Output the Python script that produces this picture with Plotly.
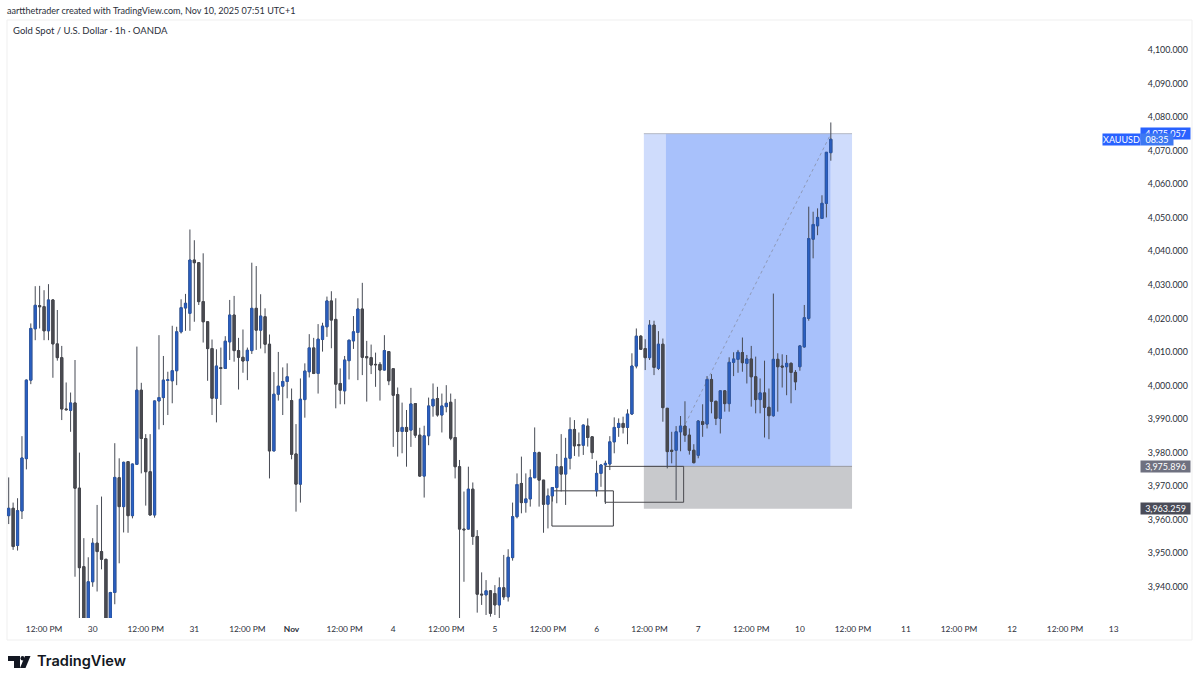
import plotly.graph_objects as go

# hourly bars, clipped ones run below the axis bottom
opens = [3961.2, 3963.4, 3952.3, 3962.6, 3978.2, 4001.6, 4016.9, 4023.8, 4023.5, 4016.3,
         4025.5, 4012.4, 4008.3, 3993.0, 3992.6, 3994.8, 3969.4, 3946.0, 3928.0, 3941.5,
         3953.0, 3950.5, 3948.2, 3928.0, 3938.3, 3972.5, 3963.9, 3977.3, 3961.2, 3976.5,
         3998.6, 3984.2, 3974.3, 3961.4, 3995.4, 3996.4, 4001.5, 4001.4, 4004.4, 4016.0,
         4023.1, 4021.5, 4037.4, 4036.6, 4025.0, 4019.0, 4011.0, 3996.2, 4005.3, 4005.1,
         4013.0, 4021.0, 4010.4, 4008.4, 4007.4, 4010.4, 4023.0, 4016.5, 4020.5, 4012.3,
         3980.5, 3997.4, 3999.8, 4001.2, 3995.5, 3979.6, 3970.6, 3995.8, 4004.1, 4011.2,
         4003.6, 4013.7, 4017.5, 4025.2, 4019.7, 4000.6, 3998.4, 4007.4, 4013.3, 4015.8,
         4022.8, 4008.6, 4008.3, 4006.3, 4006.3, 4004.6, 4010.1, 4005.0, 3997.3, 3986.3,
         3987.5, 3986.7, 3994.6, 3985.2, 3973.0, 3985.0, 3993.9, 3996.1, 3991.2, 3993.7,
         3995.0, 3984.5, 3975.8, 3957.2, 3957.2, 3969.1, 3955.0, 3937.8, 3937.6, 3938.8,
         3938.0, 3934.6, 3939.7, 3937.0, 3948.7, 3960.9, 3970.8, 3965.1, 3966.2, 3972.5,
         3980.0, 3971.8, 3964.6, 3967.1, 3969.6, 3975.8, 3973.6, 3978.3, 3986.9, 3982.4,
         3982.2, 3987.9, 3984.7, 3968.6, 3973.8, 3976.3, 3976.6, 3983.2, 3987.5, 3988.7,
         3987.5, 3991.5, 4005.8, 4014.7, 4011.0, 4008.3, 4018.0, 4005.1, 4012.3, 3993.2,
         3980.7, 3980.7, 3986.2, 3987.9, 3985.2, 3980.7, 3979.2, 3989.2, 3988.5, 4001.8,
         3995.3, 3990.2, 3998.4, 3994.6, 4006.9, 4007.8, 4009.8, 4006.6, 4007.9, 4002.6,
         3995.8, 3997.8, 3993.5, 3991.0, 4007.8, 4005.8, 4005.6, 4006.6, 4003.9, 4005.6,
         4011.5, 4020.0, 4043.6, 4047.6, 4049.8, 4054.3, 4069.4]
highs = [3972.6, 3965.1, 3966.4, 3984.9, 4001.8, 4018.5, 4029.6, 4029.7, 4028.4, 4030.2,
         4025.7, 4022.5, 4011.8, 4000.9, 3997.9, 4007.6, 3980.0, 3954.5, 3948.8, 3954.5,
         3964.4, 3966.9, 3948.2, 3938.5, 3982.8, 3978.3, 3977.3, 3977.4, 3976.7, 4011.6,
         4000.8, 3985.5, 3985.5, 3995.5, 4015.0, 4008.8, 4004.1, 4017.8, 4017.5, 4025.7,
         4027.3, 4046.5, 4043.3, 4036.7, 4039.4, 4019.0, 4013.7, 4010.8, 4011.3, 4014.7,
         4025.5, 4026.7, 4014.2, 4016.7, 4011.3, 4036.6, 4035.6, 4027.2, 4023.0, 4015.2,
         4004.0, 4010.0, 4005.4, 4006.6, 3999.1, 3988.5, 4002.1, 4006.6, 4015.3, 4014.2,
         4018.3, 4018.7, 4026.5, 4028.1, 4026.0, 4005.1, 4008.8, 4013.6, 4020.7, 4026.0,
         4030.6, 4013.3, 4012.2, 4009.8, 4007.0, 4015.0, 4010.2, 4005.0, 3999.4, 3994.9,
         3992.7, 3999.3, 3994.7, 3987.4, 3988.0, 3996.4, 4000.6, 3999.6, 3997.6, 4000.1,
         3997.6, 3996.0, 3977.8, 3968.4, 3975.8, 3971.1, 3956.9, 3944.3, 3942.0, 3939.0,
         3940.5, 3942.8, 3949.5, 3951.2, 3965.1, 3973.8, 3978.8, 3973.8, 3975.0, 3987.5,
         3980.3, 3971.8, 3969.3, 3969.7, 3979.6, 3985.5, 3984.4, 3990.5, 3989.7, 3986.0,
         3988.4, 3990.2, 3984.9, 3977.6, 3976.6, 3977.6, 3984.9, 3990.5, 3990.2, 3990.7,
         3992.9, 4009.6, 4017.0, 4015.0, 4013.8, 4019.5, 4019.3, 4016.2, 4014.0, 3993.2,
         3986.2, 3987.9, 3990.9, 3995.3, 3987.2, 3982.5, 3989.7, 3994.4, 4002.8, 4003.4,
         3995.4, 3998.5, 3998.6, 4008.4, 4009.9, 4010.6, 4014.3, 4009.1, 4011.8, 4008.6,
         4002.1, 4007.4, 3999.1, 4027.4, 4009.6, 4009.3, 4009.1, 4006.9, 4004.6, 4012.0,
         4024.0, 4053.3, 4051.8, 4052.8, 4056.7, 4069.6, 4078.4]
lows = [3958.7, 3951.0, 3950.8, 3960.2, 3975.0, 4000.4, 4013.5, 4017.0, 4013.5, 4013.5,
        4002.3, 4007.4, 3989.7, 3992.5, 3986.2, 3943.0, 3925.0, 3925.0, 3925.0, 3940.0,
        3938.6, 3945.2, 3925.0, 3925.0, 3934.8, 3947.0, 3956.2, 3956.1, 3960.4, 3976.4,
        3973.8, 3964.2, 3961.3, 3960.6, 3986.9, 3988.2, 3991.2, 3994.7, 4000.1, 4015.5,
        4016.3, 4016.3, 4019.0, 4024.0, 4012.8, 4001.4, 3991.2, 3989.0, 3994.2, 4005.0,
        4007.6, 4007.1, 3998.8, 4003.8, 4001.6, 4009.4, 4010.6, 4011.0, 4009.6, 3972.3,
        3980.4, 3995.5, 3991.2, 3996.2, 3978.0, 3962.4, 3965.1, 3990.4, 4002.4, 4003.4,
        3997.6, 4010.1, 4014.5, 4011.1, 3993.2, 3994.4, 3994.4, 4001.8, 4010.9, 4001.6,
        4003.1, 3995.2, 4003.4, 3999.6, 3995.5, 4004.5, 4000.1, 3981.7, 3978.8, 3979.8,
        3975.8, 3981.7, 3984.4, 3972.8, 3966.6, 3982.2, 3990.7, 3990.7, 3986.0, 3992.0,
        3983.7, 3972.3, 3930.6, 3941.5, 3957.0, 3952.5, 3932.3, 3934.6, 3931.6, 3931.1,
        3931.6, 3930.6, 3936.1, 3935.6, 3947.8, 3960.4, 3961.9, 3962.1, 3963.9, 3972.4,
        3963.9, 3956.1, 3957.4, 3965.4, 3964.9, 3968.4, 3964.4, 3975.0, 3979.0, 3978.8,
        3979.3, 3981.8, 3978.1, 3966.9, 3969.8, 3964.7, 3974.8, 3979.8, 3984.7, 3985.7,
        3982.5, 3991.2, 4005.1, 4010.6, 4004.6, 4007.6, 4003.1, 4004.6, 3989.2, 3975.3,
        3976.8, 3965.8, 3980.4, 3983.2, 3979.4, 3976.8, 3978.3, 3984.7, 3987.2, 3991.7,
        3988.2, 3985.7, 3992.2, 3992.2, 4002.8, 4003.8, 4004.1, 4000.6, 3993.7, 3991.7,
        3991.7, 3984.5, 3984.0, 3990.7, 3992.2, 3999.4, 3997.1, 3994.7, 3998.6, 4004.4,
        4011.3, 4019.3, 4037.9, 4044.8, 4049.8, 4050.1, 4067.0]
closes = [3963.4, 3952.0, 3962.7, 3978.4, 4001.6, 4017.0, 4023.9, 4023.5, 4016.3, 4025.5,
          4012.4, 4008.3, 3993.0, 3992.8, 3994.8, 3969.4, 3945.7, 3928.0, 3941.5, 3953.0,
          3950.5, 3948.2, 3928.0, 3938.3, 3972.6, 3963.9, 3977.1, 3961.2, 3976.6, 3998.6,
          3984.2, 3974.3, 3961.4, 3995.4, 3996.4, 4001.6, 4001.7, 4004.4, 4016.0, 4023.2,
          4024.5, 4037.4, 4036.6, 4025.0, 4019.0, 4011.0, 3996.2, 4005.8, 4005.1, 4013.2,
          4021.0, 4010.4, 4008.4, 4007.3, 4010.5, 4023.0, 4016.5, 4020.7, 4012.3, 3980.5,
          3997.4, 3999.8, 4001.2, 4002.6, 3979.5, 3970.6, 3995.9, 4004.3, 4011.2, 4003.6,
          4013.8, 4017.7, 4025.2, 4019.5, 4000.4, 3998.6, 4007.6, 4013.5, 4016.0, 4022.8,
          4008.4, 4008.3, 4006.1, 4006.2, 4004.6, 4010.4, 4001.4, 3997.1, 3986.3, 3987.5,
          3986.3, 3994.5, 3985.2, 3973.0, 3985.0, 3993.9, 3995.9, 3991.2, 3993.9, 3994.7,
          3984.3, 3975.8, 3957.2, 3957.0, 3969.1, 3955.0, 3937.8, 3937.6, 3938.8, 3932.1,
          3934.6, 3939.7, 3937.0, 3948.8, 3960.9, 3970.5, 3965.1, 3966.2, 3972.5, 3980.0,
          3971.8, 3964.6, 3967.1, 3969.6, 3975.8, 3973.6, 3978.3, 3986.9, 3982.0, 3982.1,
          3988.2, 3984.5, 3980.0, 3973.8, 3976.3, 3976.8, 3983.2, 3987.5, 3988.7, 3987.5,
          3991.5, 4005.8, 4014.7, 4010.8, 4008.3, 4018.0, 4005.4, 4012.3, 3993.4, 3980.3,
          3980.4, 3986.2, 3987.9, 3985.2, 3980.7, 3977.0, 3989.4, 3988.4, 4001.8, 3995.3,
          3990.2, 3998.4, 3994.6, 4006.9, 4007.9, 4009.9, 4006.8, 4007.9, 4002.6, 3995.8,
          3997.8, 3993.5, 3991.0, 4007.8, 4005.6, 4005.5, 4006.6, 4003.9, 4001.1, 4011.8,
          4020.2, 4043.8, 4048.0, 4050.1, 4054.3, 4069.5, 4073.4]

tick_bars = [8, 19, 31, 42, 54, 64, 76, 87, 99, 110, 122, 133, 145, 156, 168, 179, 191, 203, 215, 227, 239, 250]
tick_labels = ['12:00 PM', '30', '12:00 PM', '31', '12:00 PM', '<b>Nov</b>', '12:00 PM', '4', '12:00 PM', '5',
               '12:00 PM', '6', '12:00 PM', '7', '12:00 PM', '10', '12:00 PM', '11', '12:00 PM', '12', '12:00 PM', '13']

# long position tool
take_profit = 4075.057
entry = 3975.896
stop = 3963.259
last_price_label = '4,075.057'
tool_left, tool_right = 143.7, 190.8
fill_left, fill_right = 148.7, 185.9
line_start = (152.5, 3987.0)
line_end = (186, 4075.0)

# hand drawn boxes
box1 = (122.9, 136.8, 3958.1, 3968.6)
box2 = (134.9, 152.7, 3965.2, entry)

W, H = 1200, 684
L, R, T, B = 7, 1143, 20, 618
FONT = 'Lato'


def px(x):
    return (x - L) / (R - L)


def py(y):
    return (B - y) / (B - T)


def data_rect(x0, x1, y0, y1, fill=None, line=None, width=1):
    return dict(type='rect', xref='x', yref='y', x0=x0, x1=x1, y0=y0, y1=y1, layer='below',
                fillcolor=fill or 'rgba(0,0,0,0)', line=dict(color=line or 'rgba(0,0,0,0)', width=width))


bars = list(range(len(opens)))
body_tops = [max(o, c) for o, c in zip(opens, closes)]
body_bottoms = [min(o, c) for o, c in zip(opens, closes)]

# wicks first in dark grey, then the bodies on top so the blue stays visible
fig = go.Figure()
fig.add_trace(go.Candlestick(
    x=bars, open=opens, high=highs, low=lows, close=closes,
    increasing=dict(fillcolor='#3d414c', line=dict(color='#474b55', width=1)),
    decreasing=dict(fillcolor='#3d414c', line=dict(color='#474b55', width=1)),
    whiskerwidth=0, hoverinfo='skip',
))
fig.add_trace(go.Candlestick(
    x=bars, open=opens, high=body_tops, low=body_bottoms, close=closes,
    increasing=dict(fillcolor='#2b60c4', line=dict(color='#2a58ac', width=1)),
    decreasing=dict(fillcolor='#4b4c52', line=dict(color='#46474d', width=1)),
    whiskerwidth=0, hoverinfo='skip',
))

shapes = [
    data_rect(tool_left, tool_right, entry, take_profit, fill='#cfdcfc'),
    data_rect(fill_left, fill_right, entry, take_profit, fill='#a8c1fb'),
    data_rect(tool_left, tool_right, stop, entry, fill='#c8c9cc'),
    dict(type='line', xref='x', yref='y', x0=tool_left, x1=tool_right, y0=take_profit, y1=take_profit,
         layer='below', line=dict(color='#b4b8c4', width=1)),
    dict(type='line', xref='x', yref='y', x0=tool_left, x1=tool_right, y0=entry, y1=entry,
         layer='below', line=dict(color='#9a9ba0', width=1)),
    dict(type='line', xref='x', yref='y', x0=line_start[0], x1=line_end[0], y0=line_start[1], y1=line_end[1],
         layer='below', line=dict(color='#8f9ab8', width=1, dash='3px,3px')),
    data_rect(box1[0], box1[1], box1[2], box1[3], line='#3c3c40'),
    data_rect(box2[0], box2[1], box2[2], box2[3], line='#4a4a4e'),
    # chart frame
    dict(type='rect', xref='paper', yref='paper', x0=px(7), x1=px(1192), y0=py(640), y1=py(20),
         layer='below', line=dict(color='#efefef', width=1)),
    # TradingView logo
    dict(type='path', xref='paper', yref='paper', fillcolor='#131722', line=dict(width=0),
         path=f'M {px(8)} {py(656)} L {px(20)} {py(656)} L {px(20)} {py(668)} L {px(14)} {py(668)} '
              f'L {px(14)} {py(661)} L {px(8)} {py(661)} Z'),
    dict(type='circle', xref='paper', yref='paper', fillcolor='#131722', line=dict(width=0),
         x0=px(20.5), x1=px(24.5), y0=py(660.5), y1=py(656)),
    dict(type='path', xref='paper', yref='paper', fillcolor='#131722', line=dict(width=0),
         path=f'M {px(25)} {py(656)} L {px(30.5)} {py(656)} L {px(25.5)} {py(668)} L {px(20)} {py(668)} Z'),
]


def text_at(x, y, text, size, color='#2a2e39', anchor='left', weight=None, family=FONT):
    return dict(xref='paper', yref='paper', x=px(x), y=py(y), text=text, showarrow=False,
                xanchor=anchor, yanchor='middle', font=dict(family=family, size=size, color=color, weight=weight))


def price_tag(x, price, text, box_w, bg, y_shift=0):
    return dict(xref='paper', yref='y', x=px(x), y=price, yshift=y_shift, text=text, showarrow=False,
                xanchor='left', yanchor='middle', width=box_w, height=11, align='center', bgcolor=bg,
                borderpad=0, font=dict(family=FONT, size=9, color='#ffffff'))


annotations = [
    text_at(5, 10.5, 'aartthetrader created with TradingView.com, Nov 10, 2025 07:51 UTC+1', 9.05),
    text_at(11, 30.5, 'Gold Spot / U.S. Dollar · 1h · OANDA', 9.5),
    text_at(35, 661.5, 'TradingView', 14.6, color='#131722', weight=600, family='Inter'),
    price_tag(1140, take_profit, last_price_label, 49, '#2962ff'),
    price_tag(1140, take_profit, '08:35', 32, '#3d78f2', y_shift=-6),
    price_tag(1102, take_profit, 'XAUUSD', 37, '#2962ff', y_shift=-6),
    price_tag(1140, entry, '3,975.896', 49, '#6f7180'),
    price_tag(1140, stop, '3,963.259', 49, '#4a4c58'),
]

fig.update_layout(
    width=W, height=H,
    margin=dict(l=L, r=W - R, t=T, b=H - B),
    paper_bgcolor='white', plot_bgcolor='white',
    showlegend=False,
    font=dict(family=FONT, size=9, color='#2a2e39'),
    shapes=shapes,
    annotations=annotations,
    xaxis=dict(
        range=[(L - 8.7) / 4.42, (R - 8.7) / 4.42],
        rangeslider=dict(visible=False),
        tickmode='array', tickvals=tick_bars, ticktext=tick_labels,
        tickfont=dict(size=8.4),
        showgrid=False, zeroline=False, showline=False,
        ticks='outside', ticklen=3, tickcolor='white',
    ),
    yaxis=dict(
        side='right',
        range=[3930.7, 4108.94],
        dtick=10, tick0=3940, tickformat=',.3f',
        tickfont=dict(size=8.9),
        showgrid=False, zeroline=False, showline=False,
        ticks='outside', ticklen=2, tickcolor='white',
    ),
)

fig.write_html("out.html", config={'displayModeBar': False}, post_script="document.body.style.margin='0';")
